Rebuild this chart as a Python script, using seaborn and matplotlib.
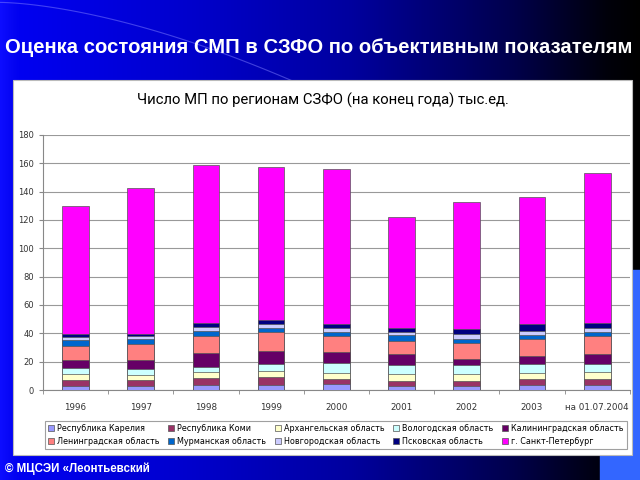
import numpy as np
import pandas as pd
import matplotlib
matplotlib.use("Agg")
import matplotlib.pyplot as plt
import seaborn as sns
from matplotlib.patches import Patch, Rectangle

categories = ["1996", "1997", "1998", "1999", "2000", "2001", "2002", "2003", "на 01.07.2004"]
regions = ["Республика Карелия", "Республика Коми", "Архангельская область",
           "Вологодская область", "Калининградская область", "Ленинградская область",
           "Мурманская область", "Новгородская область", "Псковская область",
           "г. Санкт-Петербург"]
colors = ["#9999FF", "#993366", "#FFFFCC", "#CCFFFF", "#660066", "#FF8080",
          "#0066CC", "#CCCCFF", "#000080", "#FF00FF"]

karelia     = [2.8, 2.8, 3.5, 3.5, 4.0, 2.8, 2.8, 3.5, 3.5]
komi        = [4.0, 4.0, 5.0, 5.9, 3.8, 3.6, 3.6, 4.0, 4.0]
arkhangelsk = [4.5, 3.8, 4.0, 4.2, 4.4, 4.9, 4.7, 4.5, 5.0]
vologda     = [4.0, 4.0, 4.0, 4.5, 6.6, 6.3, 6.3, 6.1, 5.9]
kaliningrad = [5.9, 6.6, 9.9, 9.7, 7.8, 8.0, 4.7, 5.9, 7.2]
leningrad   = [10.1, 11.0, 11.7, 12.9, 11.5, 8.8, 11.3, 11.8, 12.8]
murmansk    = [4.0, 3.8, 3.5, 2.8, 2.8, 4.2, 2.8, 3.0, 2.8]
novgorod    = [2.3, 1.9, 3.1, 3.1, 3.1, 2.1, 3.1, 2.6, 2.3]
pskov       = [2.2, 1.9, 2.8, 2.8, 2.6, 3.1, 3.5, 5.0, 3.5]
totals      = [129.5, 142.5, 159.0, 157.3, 156.0, 122.0, 132.3, 136.0, 153.0]

series = [karelia, komi, arkhangelsk, vologda, kaliningrad, leningrad,
          murmansk, novgorod, pskov]
spb = [t - sum(v) for t, v in zip(totals, zip(*series))]
series.append(spb)

cum = np.cumsum(np.array(series), axis=0)

fig = plt.figure(figsize=(6.4, 4.8), dpi=100)

# background gradient
bg = fig.add_axes([0, 0, 1, 1], zorder=-10)
xs = np.linspace(0, 1, 400)
blue = np.interp(xs, [0, 0.02, 0.3, 0.55, 0.8, 0.95, 1.0], [1.0, 0.95, 0.8, 0.62, 0.3, 0.04, 0.0])
grad = np.zeros((2, 400, 3))
grad[:, :, 2] = blue
grad[:, :, 0] = np.interp(xs, [0, 0.03, 0.2, 1], [0.05, 0.0, 0.0, 0.0])
grad[:, :, 1] = np.interp(xs, [0, 0.03, 0.2, 1], [0.05, 0.0, 0.0, 0.0])
bg.imshow(grad, aspect="auto", extent=[0, 1, 0, 1])
t = np.linspace(0, 1, 100)
bg.plot(0.0 + 0.55 * t, 0.995 - 0.22 * t ** 1.6, color="#8080ff", lw=0.8, alpha=0.5)
bg.set_xlim(0, 1); bg.set_ylim(0, 1)
bg.axis("off")

fig.patches.append(Rectangle((0.9375, 0.0), 0.0625, 0.052, transform=fig.transFigure,
                             color="#3366FF", zorder=-5))
fig.patches.append(Rectangle((0.9875, 0.052), 0.0125, 0.385, transform=fig.transFigure,
                             color="#3366FF", zorder=-5))
# white panel
fig.patches.append(Rectangle((0.0203, 0.052), 0.967, 0.781, transform=fig.transFigure,
                             facecolor="white", edgecolor="#bbbbbb", lw=0.8, zorder=-4))

fig.text(0.4985, 0.902, "Оценка состояния СМП в СЗФО по объективным показателям",
         color="white", fontsize=14.6, fontweight="bold", ha="center", va="center",
         family="Liberation Sans")
fig.text(0.008, 0.024, "© МЦСЭИ «Леонтьевский", color="white", fontsize=8.3,
         fontweight="bold", ha="left", va="center", family="Liberation Sans")
fig.text(0.505, 0.792, "Число МП по регионам СЗФО (на конец года) тыс.ед.",
         color="black", fontsize=10.7, ha="center", va="center", family="Roboto")

ax = fig.add_axes([0.067, 0.1875, 0.917, 0.5315])
ax.set_facecolor("white")
for i in range(len(series) - 1, -1, -1):
    df = pd.DataFrame({"cat": categories, "val": cum[i]})
    sns.barplot(data=df, x="cat", y="val", order=categories, color=colors[i],
                width=0.41, edgecolor="#555555", linewidth=0.5, errorbar=None,
                saturation=1, ax=ax, zorder=3)

ax.set_ylim(0, 180)
ax.set_xlim(-0.5, len(categories) - 0.5)
ax.set_yticks(np.arange(0, 181, 20))
ax.yaxis.grid(True, color="#999999", lw=0.8, zorder=0)
ax.set_axisbelow(True)
ax.set_xlabel(""); ax.set_ylabel("")
for s in ["top", "right"]:
    ax.spines[s].set_visible(False)
ax.spines["left"].set_color("#888888")
ax.spines["bottom"].set_color("#888888")
ax.tick_params(axis="y", labelsize=6, colors="#333333", length=3, color="#888888")
ax.tick_params(axis="x", labelsize=6.3, colors="#333333", length=0, pad=9)
ax.set_xticks(np.arange(-0.5, len(categories), 1), minor=True)
ax.tick_params(axis="x", which="minor", length=3, color="#888888")

handles = [Patch(facecolor=c, edgecolor="#555555", lw=0.5, label=r) for c, r in zip(colors, regions)]
order = [0, 5, 1, 6, 2, 7, 3, 8, 4, 9]
leg = fig.legend([handles[k] for k in order], [regions[k] for k in order],
                 loc="center", ncol=5, bbox_to_anchor=(0.0703, 0.0583, 0.909, 0.0708),
                 mode="expand", fontsize=5.8, frameon=True, fancybox=False,
                 edgecolor="#888888", handlelength=0.7, handleheight=0.7,
                 handletextpad=0.4, borderaxespad=0, labelspacing=0.5, columnspacing=1.0,
                 borderpad=0.4)
leg.get_frame().set_linewidth(0.8)

fig.savefig("out.png", dpi=100)
